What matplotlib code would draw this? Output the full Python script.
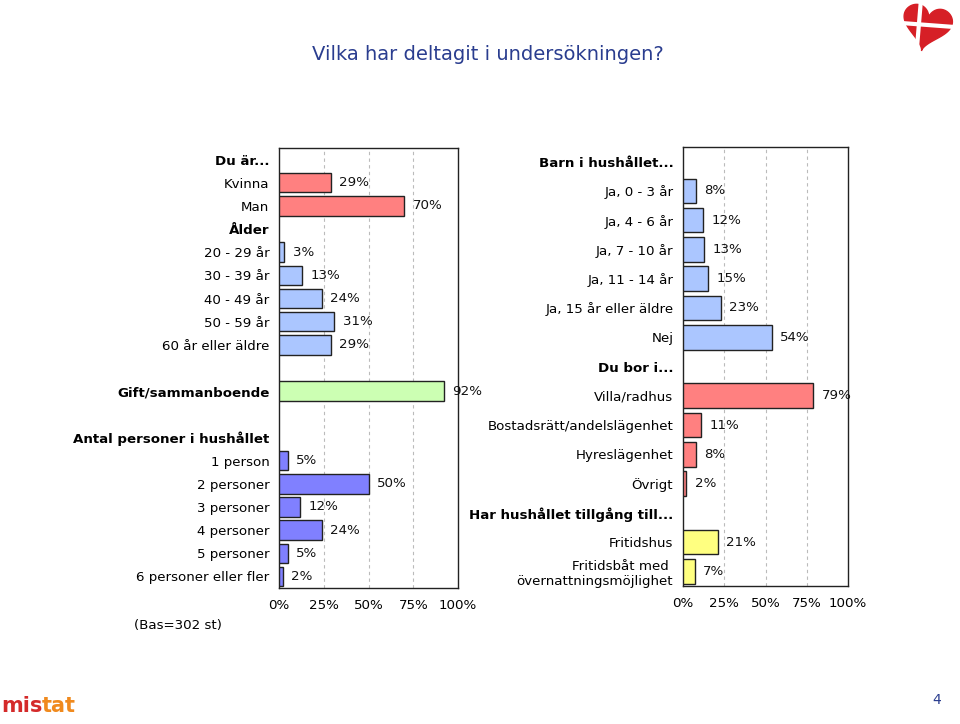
import matplotlib.pyplot as plt
import numpy as np

# left panel
left_labels = ['Du är...', 'Kvinna', 'Man', 'Ålder', '20 - 29 år', '30 - 39 år',
               '40 - 49 år', '50 - 59 år', '60 år eller äldre', '',
               'Gift/sammanboende', '', 'Antal personer i hushållet', '1 person',
               '2 personer', '3 personer', '4 personer', '5 personer',
               '6 personer eller fler']
left_bold = ['Du är...', 'Ålder', 'Gift/sammanboende', 'Antal personer i hushållet']
gender = [29, 70]
age = [3, 13, 24, 31, 29]
married = [92]
persons = [5, 50, 12, 24, 5, 2]

# right panel
right_labels = ['Barn i hushållet...', 'Ja, 0 - 3 år', 'Ja, 4 - 6 år', 'Ja, 7 - 10 år',
                'Ja, 11 - 14 år', 'Ja, 15 år eller äldre', 'Nej', 'Du bor i...',
                'Villa/radhus', 'Bostadsrätt/andelslägenhet', 'Hyreslägenhet', 'Övrigt',
                'Har hushållet tillgång till...', 'Fritidshus',
                'Fritidsbåt med \növernattningsmöjlighet']
right_bold = ['Barn i hushållet...', 'Du bor i...', 'Har hushållet tillgång till...']
children = [8, 12, 13, 15, 23, 54]
housing = [79, 11, 8, 2]
access = [21, 7]

ticks = [0, 25, 50, 75, 100]
tick_labels = ['0%', '25%', '50%', '75%', '100%']

RED = '#FF8080'
BLUE = '#ABC6FF'
GREEN = '#CCFFB3'
PURPLE = '#8080FF'
YELLOW = '#FFFF80'
FS = 9.6

fig = plt.figure(figsize=(9.6, 7.24), dpi=100)


def panel(ax, labels, bold, groups):
    n = len(labels)
    for start, vals, color in groups:
        y = np.arange(start, start + len(vals))
        ax.barh(y, vals, height=0.84, color=color, edgecolor='#222222', linewidth=1, zorder=3)
        for yy, v in zip(y, vals):
            ax.annotate(f'{v}%', (v, yy), xytext=(6, 0), textcoords='offset points',
                        va='center', ha='left', fontsize=FS, color='#111111',
                        annotation_clip=False, zorder=4)
    ax.set_ylim(n - 0.5, -0.5)
    ax.set_xlim(0, 100)
    ax.set_yticks(np.arange(n))
    ax.set_yticklabels(labels, fontsize=FS)
    for t in ax.get_yticklabels():
        if t.get_text() in bold:
            t.set_fontweight('bold')
    ax.set_xticks(ticks)
    ax.set_xticklabels(tick_labels, fontsize=FS)
    ax.tick_params(axis='both', length=0)
    ax.tick_params(axis='y', pad=7)
    ax.tick_params(axis='x', pad=8)
    for x in [25, 50, 75]:
        ax.axvline(x, color='#BBBBBB', linestyle=(0, (3, 3)), linewidth=0.8, zorder=1)
    for s in ax.spines.values():
        s.set_color('#222222')
        s.set_linewidth(1)


axl = fig.add_axes([279 / 960, 1 - 588 / 724, 179 / 960, 440 / 724])
panel(axl, left_labels, left_bold,
      [(1, gender, RED), (4, age, BLUE), (10, married, GREEN), (13, persons, PURPLE)])

axr = fig.add_axes([683 / 960, 1 - 586 / 724, 165 / 960, 439 / 724])
panel(axr, right_labels, right_bold,
      [(1, children, BLUE), (8, housing, RED), (13, access, YELLOW)])

fig.text(312 / 960, 1 - 55 / 724, 'Vilka har deltagit i undersökningen?',
         fontsize=14, color='#2A3D8F', va='center', ha='left')
fig.text(178 / 960, 1 - 625 / 724, '(Bas=302 st)', fontsize=FS, ha='center', va='center')
fig.text(937 / 960, 1 - 700 / 724, '4', fontsize=10, color='#2A3D8F', ha='center', va='center')

# logos
fig.text(1 / 960, 1 - 706 / 724, 'mis', fontsize=15, fontweight='bold', color='#D42A2A',
         ha='left', va='center')
fig.text(42 / 960, 1 - 706 / 724, 'tat', fontsize=15, fontweight='bold', color='#F08A1E',
         ha='left', va='center')

# heart with white cross, top right
axh = fig.add_axes([898 / 960, 1 - 54 / 724, 58 / 960, 52 / 724])
t = np.linspace(0, 2 * np.pi, 200)
hx = 16 * np.sin(t) ** 3
hy = 13 * np.cos(t) - 5 * np.cos(2 * t) - 2 * np.cos(3 * t) - np.cos(4 * t)
rot = np.deg2rad(-12)
axh.fill(hx * np.cos(rot) - hy * np.sin(rot), hx * np.sin(rot) + hy * np.cos(rot),
         color='#D61F26', zorder=1)
axh.plot([-20, 20], [1.5, -1.5], color='white', linewidth=3, zorder=2)
axh.plot([-4, -7], [16, -20], color='white', linewidth=3, zorder=2)
axh.set_xlim(-19, 19)
axh.set_ylim(-19, 15)
axh.axis('off')

fig.savefig('out.png', dpi=100)
